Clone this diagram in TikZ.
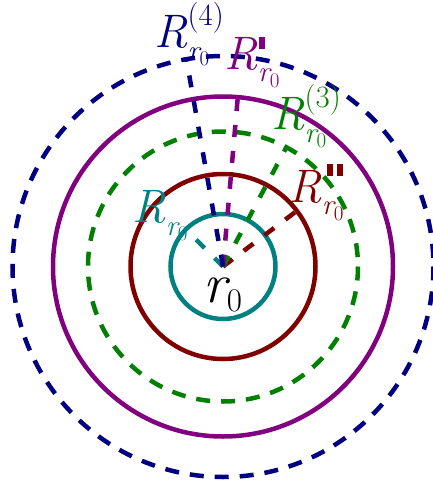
\documentclass[tikz,border=0pt]{standalone}
\definecolor{cnavy}{RGB}{0,0,128}
\definecolor{cpurple}{RGB}{128,0,128}
\definecolor{cgreen}{RGB}{0,128,0}
\definecolor{cdred}{RGB}{128,0,0}
\definecolor{cteal}{RGB}{0,128,128}
\newcommand{\Rsub}{\raisebox{-0.27em}{\fontsize{29}{29}\selectfont\itshape r\upshape\raisebox{-0.18em}{\fontsize{21}{21}\selectfont 0}}}
\newcommand{\Rsup}[1]{\raisebox{0.48em}{\fontsize{31}{31}\selectfont\upshape #1}}
\newcommand{\pbar}{\rule{0.13em}{0.27em}}
\begin{document}
\begin{tikzpicture}[x=1pt,y=-1pt,
  ring/.style={line width=4.5pt},
  dring/.style={line width=4.5pt,dash pattern=on 14pt off 11pt},
  radial/.style={line width=4.5pt,dash pattern=on 12pt off 14pt},
  lbl/.style={inner sep=0pt,font=\fontsize{47}{52}\selectfont\itshape}]
\useasboundingbox (0,0) rectangle (432,490);
\coordinate (O) at (223,266.5);
% circles
\draw[ring,cteal] (O) circle[radius=52.5];
\draw[ring,cdred] (O) circle[radius=92.5];
\draw[dring,cgreen] (O) circle[radius=135];
\draw[ring,cpurple] (O) circle[radius=170];
\draw[dring,cnavy] (O) circle[radius=210.5];
% radial endpoints
\path (O) ++(-36.6,-207.3) coordinate (e4);
\path (O) ++(14.8,-169.4) coordinate (e2);
\path (O) ++(63.4,-119.2) coordinate (e3);
\path (O) ++(73.9,-55.7) coordinate (e1);
\path (O) ++(-37.1,-37.1) coordinate (e0);
\draw[radial,cteal] (O) -- (e0);
\draw[radial,cdred] (O) -- (e1);
\draw[radial,cgreen] (O) -- (e3);
\draw[radial,cpurple] (O) -- (e2);
\draw[radial,cnavy] (O) -- (e4);
% labels
\node[lbl,text=cteal] (L0) at (160,216) {R\Rsub};
\node[lbl,text=cnavy] (L4) at (189,34) {R\rlap{\Rsub}\Rsup{(4)}};
\node[lbl,text=cpurple] (L2) at (252,62) {R\rlap{\raisebox{0.42em}{\kern0.03em\pbar}}\Rsub};
\node[lbl,text=cgreen] (L3) at (306,116) {R\rlap{\Rsub}\Rsup{(3)}};
\node[lbl,text=cdred] (L1) at (316,192) {R\rlap{\raisebox{0.55em}{\kern0.1em\pbar\kern0.09em\pbar}}\Rsub};
\node[inner sep=0pt,text=black,font=\fontsize{56}{60}\selectfont] (C) at (223,295) {\itshape r\upshape\raisebox{-0.17em}{\fontsize{33}{33}\selectfont 0}};
\end{tikzpicture}
\end{document}
